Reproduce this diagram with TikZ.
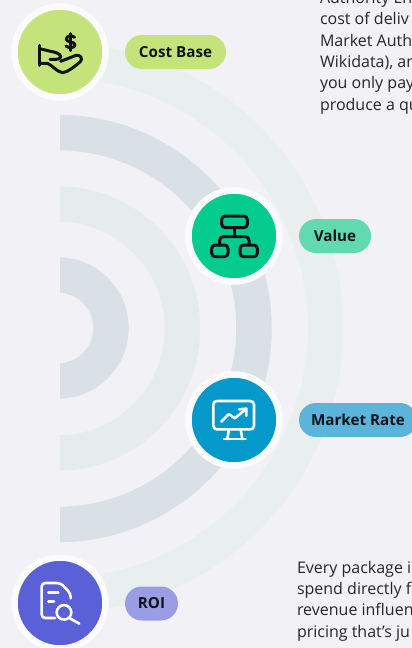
\documentclass[tikz,border=0pt]{standalone}
\usepackage{fontspec}
\setmainfont{Open Sans}[BoldFont={Open Sans Bold}]
\definecolor{bgc}{HTML}{F2F2F6}
\definecolor{arcd}{HTML}{D9E0E6}
\definecolor{arcl}{HTML}{E6ECEC}
\definecolor{arcf}{HTML}{E9EEEE}
\definecolor{costc}{HTML}{C4E37B}
\definecolor{valc}{HTML}{03CC8E}
\definecolor{mktc}{HTML}{0498CB}
\definecolor{roic}{HTML}{5A60D8}
\definecolor{costp}{HTML}{C4E37B}
\definecolor{valp}{HTML}{63D9B0}
\definecolor{mktp}{HTML}{5DB4DB}
\definecolor{roip}{HTML}{9A9DE4}
\definecolor{inkc}{HTML}{111318}
\tikzset{
  badge/.style={circle,draw=white!70!bgc,line width=6.5pt,minimum size=91pt,inner sep=0pt,outer sep=0pt},
  pill/.style={rounded corners=17pt,minimum height=34pt,inner sep=0pt,outer sep=0pt,text=inkc,
     font=\fontsize{15.2}{18}\selectfont\bfseries,anchor=center},
  body/.style={anchor=base west,align=left,inner sep=0pt,outer sep=0pt,text=black!85,
     font=\fontsize{16}{21.3}\selectfont},
  ring/.style={line width=35.5pt,line cap=butt},
  icon/.style={line width=2.6pt,line cap=round,line join=round},
  inkicon/.style={line width=3pt,line cap=round,line join=round,draw=inkc},
  iconscale/.style={x=0.33333pt,y=-0.33333pt}
}
\begin{document}
\begin{tikzpicture}[x=1pt,y=-1pt]
\useasboundingbox (0,0) rectangle (412,648);
\clip (0,0) rectangle (412,648);
\fill[bgc] (0,0) rectangle (412,648);
% rings
\begin{scope}
\clip (60,0) rectangle (412,648);
\draw[ring,arcf] (58,60.5) arc[start angle=90,end angle=-90,radius=267.5pt];
\draw[ring,arcd] (58,132.5) arc[start angle=90,end angle=-90,radius=196pt];
\draw[ring,arcl] (58,204) arc[start angle=90,end angle=-90,radius=124.5pt];
\draw[ring,arcd] (58,275) arc[start angle=90,end angle=-90,radius=53pt];
\end{scope}
% badges
\node[badge,fill=costc] (cost) at (60,52) {};
\node[badge,fill=valc] (value) at (234,236) {};
\node[badge,fill=mktc] (market) at (234,420) {};
\node[badge,fill=roic] (roi) at (60,603) {};
% pills
\node[pill,fill=costp,minimum width=101pt] (costlabel) at (175.5,52) {Cost Base};
\node[pill,fill=valp,minimum width=72pt] (valuelabel) at (335,236) {Value};
\node[pill,fill=mktp,minimum width=118pt] (marketlabel) at (358,420) {Market Rate};
\node[pill,fill=roip,minimum width=53pt] (roilabel) at (151.5,603.5) {ROI};
% icons
\begin{scope}[shift={(30,22)},iconscale,inkicon]
  \draw (134,46) .. controls (124,38) and (108,42) .. (109,52) .. controls (110,62) and (134,58) .. (135,68) .. controls (135,78) and (118,80) .. (108,72);
  \draw (122,35) -- (122,86);
  \draw (29,70) -- (29,130);
  \draw (29,80) -- (62,88) .. controls (75,90) and (92,95) .. (92,104) .. controls (92,112) and (80,113) .. (60,112);
  \draw (29,124) -- (52,124) .. controls (68,130) and (80,150) .. (98,152) .. controls (115,150) and (135,132) .. (150,120) .. controls (160,110) and (152,98) .. (138,100) -- (92,118);
\end{scope}
\begin{scope}[shift={(204,205)},iconscale,inkicon]
  \draw[rounded corners=3.5pt] (53,33) rectangle (130,68);
  \draw[rounded corners=3.5pt] (23,120) rectangle (72,155);
  \draw[rounded corners=3.5pt] (108,120) rectangle (160,155);
  \draw (91,68) -- (91,95);
  \draw[rounded corners=3.5pt] (47,120) -- (47,95) -- (135,95) -- (135,120);
\end{scope}
\begin{scope}[shift={(204,390)},iconscale,icon,draw=white]
  \draw[rounded corners=3.5pt] (28,33) rectangle (150,118);
  \draw (75,118) -- (70,147);
  \draw (110,118) -- (115,147);
  \draw (60,147) -- (125,147);
  \draw (52,95) -- (75,72) -- (92,85) -- (125,58);
  \draw (105,58) -- (127,56) -- (127,78);
\end{scope}
\begin{scope}[shift={(30,573)},iconscale,icon,draw=white]
  \draw[rounded corners=3.5pt] (75,135) -- (35,135) -- (35,30) -- (92,30) -- (122,62) -- (122,76);
  \draw (55,58) -- (85,58);
  \draw (55,85) -- (72,85);
  \draw (102,118) circle[radius=7.3pt];
  \draw (118,135) -- (148,152);
\end{scope}
% text
\node[body] (toptext) at (320,110) {Authority En\\cost of deliv\\Market Auth\\Wikidata), an\\you only pay\\produce a qu};
\node[body] (bottomtext) at (297,637) {Every package i\\spend directly f\\revenue influen\\pricing that’s ju};
\end{tikzpicture}
\end{document}
